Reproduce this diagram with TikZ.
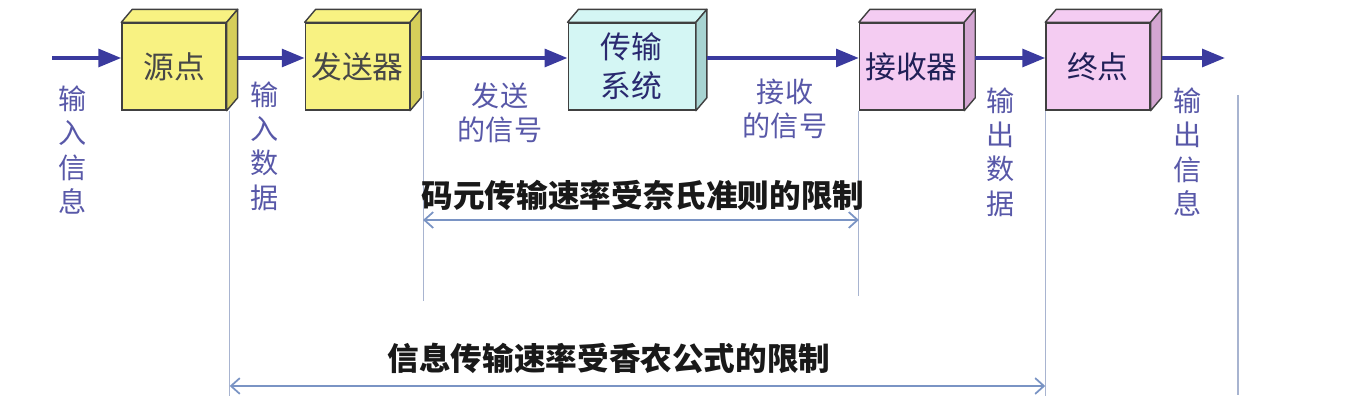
\documentclass[tikz,border=0pt]{standalone}
\usepackage{fontspec}
\newfontfamily\cjk{Noto Sans CJK SC}
\usetikzlibrary{arrows.meta, positioning}

\definecolor{flowblue}{HTML}{3A3A9E}
\definecolor{labelblue}{HTML}{5858A8}
\definecolor{guideblue}{HTML}{A8B4D0}
\definecolor{spanblue}{HTML}{7A94C4}
\definecolor{yelfront}{HTML}{F8F282}
\definecolor{yelside}{HTML}{D6CE5A}
\definecolor{cyanfront}{HTML}{D4F6F4}
\definecolor{cyanside}{HTML}{A8D4D2}
\definecolor{pinkfront}{HTML}{F4CCF2}
\definecolor{pinkside}{HTML}{D4A6D2}

% top and side faces of a box node
\newcommand{\cubeface}[3]{%
  \draw[facet, fill=#2] (#1.north west) -- ([shift={(11,-13)}]#1.north west) -- ([shift={(11,-13)}]#1.north east) -- (#1.north east) -- cycle;
  \draw[facet, fill=#3] (#1.north east) -- ([shift={(11,-13)}]#1.north east) -- ([shift={(11,-13)}]#1.south east) -- (#1.south east) -- cycle;
}

\begin{document}
\begin{tikzpicture}[
  x=0.02cm, y=-0.02cm,
  node distance=1.56cm,
  unit/.style={rectangle, draw=black!75, thick, minimum width=2.08cm, minimum height=1.74cm, inner sep=0pt, align=center, font=\cjk\fontsize{17.5}{22}\selectfont, text=black!72},
  facet/.style={draw=black!75, thick, line join=round},
  flow/.style={line width=2.3pt, draw=flowblue, -{Triangle[length=13pt, width=10pt]}},
  note/.style={text=labelblue, align=center, font=\cjk\fontsize{16}{19.5}\selectfont},
  guide/.style={draw=guideblue, line width=0.6pt},
  span/.style={draw=spanblue, line width=1pt, {Straight Barb[length=5pt, width=9pt]}-{Straight Barb[length=5pt, width=9pt]}},
  limit/.style={font=\cjk\bfseries\fontsize{18}{22}\selectfont, text=black!90}
]
\useasboundingbox (0,0) rectangle (1372,411);

% Boxes
\node (src) [unit, fill=yelfront] at (174,66.5) {源点};
\node (sender) [unit, fill=yelfront, right=of src] {发送器};
\node (channel) [unit, fill=cyanfront, minimum width=2.54cm, right=3.15cm of sender, text=flowblue!70!black] {传输\\系统};
\node (receiver) [unit, fill=pinkfront, right=3.26cm of channel, text=flowblue!55!black] {接收器};
\node (sink) [unit, fill=pinkfront, right=1.62cm of receiver, text=flowblue!55!black] {终点};

\cubeface{src}{yelfront}{yelside}
\cubeface{sender}{yelfront}{yelside}
\cubeface{channel}{cyanfront}{cyanside}
\cubeface{receiver}{pinkfront}{pinkside}
\cubeface{sink}{pinkfront}{pinkside}

% Main flow
\coordinate (in) at (52,58);
\coordinate (out) at (1225,58);
\draw [flow] (in) -- (src.west |- in);
\draw [flow] ([shift={(11,-8.5)}]src.east) -- ([shift={(0,-8.5)}]sender.west);
\draw [flow] ([shift={(11,-8.5)}]sender.east) -- ([shift={(0,-8.5)}]channel.west);
\draw [flow] ([shift={(11,-8.5)}]channel.east) -- ([shift={(0,-8.5)}]receiver.west);
\draw [flow] ([shift={(11,-8.5)}]receiver.east) -- ([shift={(0,-8.5)}]sink.west);
\draw [flow] ([shift={(11,-8.5)}]sink.east) -- (out);

% Labels
\node (inInfo) [note] at (73,150) {输\\入\\信\\息};
\node (inData) [note] at (265,146) {输\\入\\数\\据};
\node (sentSig) [note] at (500,113) {发送\\的信号};
\node (recvSig) [note] at (785,109) {接收\\的信号};
\node (outData) [note] at (1001,152) {输\\出\\数\\据};
\node (outInfo) [note] at (1188,152) {输\\出\\信\\息};

% Limits
\coordinate (yA) at (0,220);
\coordinate (yB) at (0,386);
\coordinate (g1) at ([shift={(3,0)}]src.south east);
\coordinate (g2) at ([shift={(13,-20)}]sender.south east);
\coordinate (edge) at (1238,95);
\draw [guide] (g1) -- ++(0,285);
\draw [guide] (g2) -- ++(0,210);
\draw [guide] (receiver.south west) -- ++(0,185);
\draw [guide] (sink.south west) -- ++(0,285);
\draw [guide] (edge) -- ++(0,300);

\draw [span] (g2 |- yA) -- (receiver.south west |- yA);
\draw [span] (g1 |- yB) -- (sink.south west |- yB);
\node (nyquist) [limit] at (643,195) {码元传输速率受奈氏准则的限制};
\node (shannon) [limit] at (609,358) {信息传输速率受香农公式的限制};
\end{tikzpicture}
\end{document}
